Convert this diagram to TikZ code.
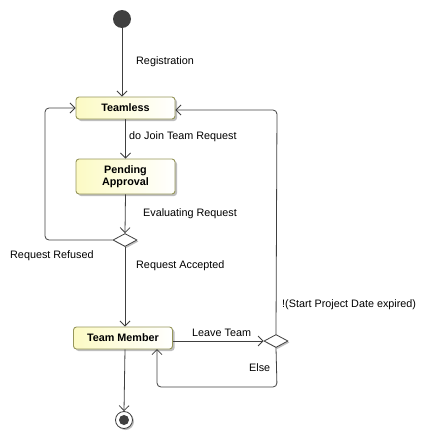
\documentclass[tikz,border=0pt]{standalone}
\usepackage{fontspec}
\setmainfont{Liberation Sans}
\usetikzlibrary{arrows.meta,shapes.geometric,shadows}

\definecolor{linegray}{RGB}{64,64,64}
\definecolor{boxline}{RGB}{150,150,90}
\definecolor{boxfill}{RGB}{252,250,196}
\definecolor{shadowgray}{RGB}{190,190,190}

\tikzset{
  state/.style={draw=boxline, line width=0.9pt, rounded corners=3pt, left color=boxfill, right color=white,
    minimum width=99pt, align=center, font=\fontsize{10.8}{12.5}\selectfont\bfseries,
    drop shadow={shadow xshift=2pt, shadow yshift=-2pt, fill=shadowgray, opacity=1}},
  decision/.style={diamond, draw=linegray, line width=0.8pt, fill=white, minimum width=24pt, minimum height=13pt,
    inner sep=0pt, aspect=2,
    drop shadow={shadow xshift=1.5pt, shadow yshift=-1.5pt, fill=shadowgray, opacity=1}},
  conn/.style={draw=linegray, line width=0.8pt, rounded corners=4pt},
  arr/.style={conn, -{Straight Barb[length=5pt, width=10pt]}},
  lbl/.style={anchor=west, inner sep=0pt}
}

\begin{document}
\begin{tikzpicture}[x=1pt, y=-1pt, font=\fontsize{10.8}{12.5}\selectfont]
\useasboundingbox (0,0) rectangle (430,439);

\node[circle, fill=linegray, minimum size=18pt, inner sep=0pt] (init) at (122,19) {};
\node[state, minimum height=22pt] (teamless) at (125.5,108) {Teamless};
\node[state, minimum height=35pt, text width=80pt] (pending) at (125.5,176.5) {Pending\\Approval};
\node[decision] (dec1) at (125,240) {};
\node[state, minimum height=22pt] (member) at (123,338) {Team Member};
\node[decision] (dec2) at (276,341) {};
\node[circle, draw=linegray, line width=0.8pt, fill=white, minimum size=17pt, inner sep=0pt,
  drop shadow={shadow xshift=1.5pt, shadow yshift=-1.5pt, fill=shadowgray, opacity=1},
  path picture={\fill[linegray] (path picture bounding box.center) circle (5pt);}] (final) at (124,420) {};

\coordinate (refused) at (45,240);
\coordinate (expired) at (277,110);
\coordinate (elseturn) at (277,387);

\draw[arr] (init) -- (init |- teamless.north);
\draw[arr] (teamless) -- (teamless |- pending.north);
\draw[arr] (pending.south) -- (dec1.north);
\draw[arr] (dec1.west) -- (refused) -- (refused |- teamless.west) -- (teamless.west);
\draw[arr] (dec1.south) -- (dec1 |- member.north);
\draw[arr] (member.east |- dec2) -- (dec2.west);
\draw[arr] (dec2.north) -- (expired) -- (expired -| teamless.east);
\draw[arr] (dec2.south) -- (elseturn) -- (157,387) -- (157,349);
\draw[arr] (dec1 |- member.south) -- (final.north);

\node[lbl] (regLbl) at (136,62) {Registration};
\node[lbl] (joinLbl) at (129,137) {do Join Team Request};
\node[lbl] (evalLbl) at (143,214) {Evaluating Request};
\node[lbl] (refLbl) at (10,256) {Request Refused};
\node[lbl] (accLbl) at (136,266) {Request Accepted};
\node[lbl] (expLbl) at (282,305) {!(Start Project Date expired)};
\node[lbl] (leaveLbl) at (192,333) {Leave Team};
\node[lbl] (elseLbl) at (249,368) {Else};
\end{tikzpicture}
\end{document}
